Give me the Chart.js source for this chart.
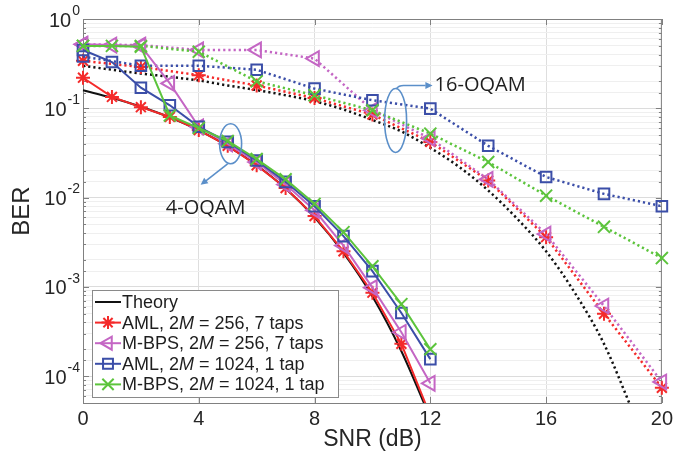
<!DOCTYPE html>
<html>
<head>
<meta charset="utf-8">
<script src="https://cdn.jsdelivr.net/npm/chart.js@4.4.1/dist/chart.umd.min.js"></script>
<style>
  html, body { margin: 0; padding: 0; background: #fff; }
  #wrap { width: 677px; height: 458px; }
</style>
</head>
<body>
<div id="wrap"><canvas id="berChart"></canvas></div>
<script>
// SNR grids (dB)
const snr4 = [0, 1, 2, 3, 4, 5, 6, 7, 8, 9, 10, 11, 12];
const snr16 = [0, 2, 4, 6, 8, 10, 12, 14, 16, 18, 20];
const snrTheory16 = [0, 1, 2, 3, 4, 5, 6, 7, 8, 9, 10, 11, 12, 13, 14, 15, 16, 17, 18, 19];

// 4-OQAM (solid)
const theory4 = [0.159, 0.131, 0.104, 0.079, 0.0565, 0.0377, 0.023, 0.0126, 0.006, 0.0024, 7.8e-4, 1.9e-4, 3.4e-5];
const aml256_4 = [0.22, 0.134, 0.103, 0.08, 0.057, 0.038, 0.023, 0.0128, 0.0062, 0.0025, 8.6e-4, 2.3e-4, 3.6e-5];
const mbps256_4 = [0.52, 0.51, 0.5, 0.19, 0.062, 0.04, 0.025, 0.014, 0.0072, 0.0029, 9.8e-4, 3.1e-4, 8.3e-5];
const aml1024_4 = [0.45, 0.33, 0.17, 0.108, 0.062, 0.042, 0.026, 0.015, 0.008, 0.0037, 0.0015, 5.1e-4, 1.55e-4];
const mbps1024_4 = [0.5, 0.5, 0.49, 0.083, 0.06, 0.043, 0.027, 0.016, 0.0085, 0.0041, 0.0017, 6.4e-4, 2.0e-4];

// 16-OQAM (dotted)
const theory16 = [0.3, 0.27, 0.245, 0.225, 0.205, 0.18, 0.16, 0.14, 0.12, 0.097, 0.074, 0.055, 0.036, 0.022, 0.012, 0.0058, 0.0025, 8.5e-4, 2.3e-4, 4e-5];
const aml256_16 = [0.34, 0.29, 0.235, 0.18, 0.13, 0.085, 0.042, 0.0155, 0.0036, 5.0e-4, 7.4e-5];
const mbps256_16 = [0.52, 0.51, 0.45, 0.45, 0.36, 0.095, 0.046, 0.016, 0.0039, 6.1e-4, 8.6e-5];
const aml1024_16 = [0.38, 0.30, 0.30, 0.27, 0.166, 0.123, 0.099, 0.038, 0.017, 0.011, 0.008];
const mbps1024_16 = [0.5, 0.5, 0.43, 0.2, 0.14, 0.095, 0.052, 0.025, 0.0105, 0.0047, 0.0021];

// axis labels
const xTickValues = [0, 4, 8, 12, 16, 20];
const yDecades = [0, -1, -2, -3, -4];

const RED = '#f42a2a', MAG = '#c466c4', BLUE = '#3b4ea8', GREEN = '#5cc43c', BLACK = '#111111';
const DOT = [2.2, 3];

const pts = (xs, ys) => xs.map((x, i) => ({ x: x, y: ys[i] }));
const isDecade = v => Math.abs(Math.log10(v) - Math.round(Math.log10(v))) < 1e-6;
const clipBox = { left: 12, right: 12, top: 12, bottom: 0 };

function series(xs, ys, color, style, dotted) {
    return {
        data: pts(xs, ys),
        borderColor: color,
        borderWidth: dotted ? 2.5 : 2,
        borderDash: dotted ? DOT : [],
        pointStyle: style.pointStyle,
        rotation: style.rotation || 0,
        pointRadius: style.radius,
        pointBorderWidth: 2,
        pointBorderColor: color,
        pointBackgroundColor: 'rgba(0,0,0,0)',
        tension: 0,
        clip: clipBox
    };
}

const starM = { pointStyle: 'star', radius: 7 };
const triM = { pointStyle: 'triangle', rotation: -90, radius: 8.5 };
const sqM = { pointStyle: 'rect', radius: 7.5 };
const xM = { pointStyle: 'crossRot', radius: 8.5 };

// legend entries, middle part is italic
const legendItems = [
    { parts: ['Theory', '', ''], color: BLACK, marker: null },
    { parts: ['AML, 2', 'M', ' = 256, 7 taps'], color: RED, marker: { pointStyle: 'star', radius: 6.5 } },
    { parts: ['M-BPS, 2', 'M', ' = 256, 7 taps'], color: MAG, marker: { pointStyle: 'triangle', rotation: -90, radius: 7.5 } },
    { parts: ['AML, 2', 'M', ' = 1024, 1 tap'], color: BLUE, marker: { pointStyle: 'rect', radius: 7 } },
    { parts: ['M-BPS, 2', 'M', ' = 1024, 1 tap'], color: GREEN, marker: { pointStyle: 'crossRot', radius: 8 } }
];

function drawArrowHead(ctx, x1, y1, x2, y2, size) {
    const ang = Math.atan2(y2 - y1, x2 - x1);
    ctx.beginPath();
    ctx.moveTo(x2, y2);
    ctx.lineTo(x2 - size * Math.cos(ang - 0.45), y2 - size * Math.sin(ang - 0.45));
    ctx.lineTo(x2 - size * Math.cos(ang + 0.45), y2 - size * Math.sin(ang + 0.45));
    ctx.closePath();
    ctx.fill();
}

const decor = {
    id: 'decor',
    beforeDatasetsDraw(chart) {
        const { ctx, chartArea: a, scales: { x, y } } = chart;
        ctx.save();
        ctx.strokeStyle = '#808080';
        ctx.lineWidth = 1;
        ctx.strokeRect(a.left + 0.5, a.top + 0.5, a.right - a.left - 1, a.bottom - a.top);
        ctx.beginPath();
        y.ticks.forEach(t => {
            const py = Math.round(y.getPixelForValue(t.value)) + 0.5;
            const len = isDecade(t.value) ? 6 : 3;
            ctx.moveTo(a.left, py); ctx.lineTo(a.left + len, py);
            ctx.moveTo(a.right, py); ctx.lineTo(a.right - len, py);
        });
        x.ticks.forEach(t => {
            const px = Math.round(x.getPixelForValue(t.value)) + 0.5;
            ctx.moveTo(px, a.bottom); ctx.lineTo(px, a.bottom - 6);
            ctx.moveTo(px, a.top); ctx.lineTo(px, a.top + 6);
        });
        ctx.stroke();
        ctx.restore();
    },
    afterDatasetsDraw(chart) {
        const { ctx, chartArea: a, scales: { x, y } } = chart;
        ctx.save();

        // y tick labels 10^n
        ctx.fillStyle = '#262626';
        ctx.textBaseline = 'middle';
        yDecades.forEach(e => {
            const py = y.getPixelForValue(Math.pow(10, e));
            const expText = String(e);
            ctx.font = '14px "Liberation Sans", Arial, sans-serif';
            const ew = ctx.measureText(expText).width;
            ctx.textAlign = 'right';
            ctx.fillText(expText, a.left - 3, py - 8);
            ctx.font = '20px "Liberation Sans", Arial, sans-serif';
            ctx.fillText('10', a.left - 4 - ew, py + 2);
        });

        // y title
        ctx.save();
        ctx.translate(22, (a.top + a.bottom) / 2);
        ctx.rotate(-Math.PI / 2);
        ctx.textAlign = 'center';
        ctx.font = '24px "Liberation Sans", Arial, sans-serif';
        ctx.fillText('BER', 0, 0);
        ctx.restore();

        // annotations
        ctx.strokeStyle = '#5b8fc9';
        ctx.fillStyle = '#5b8fc9';
        ctx.lineWidth = 1.6;
        const c4x = x.getPixelForValue(5.1), c4y = y.getPixelForValue(0.040);
        ctx.beginPath();
        ctx.ellipse(c4x, c4y, 11, 20, 0, 0, 2 * Math.PI);
        ctx.stroke();
        ctx.beginPath();
        ctx.moveTo(c4x - 3, c4y + 20);
        ctx.lineTo(c4x - 26, c4y + 38);
        ctx.stroke();
        drawArrowHead(ctx, c4x - 3, c4y + 20, c4x - 30, c4y + 41, 8);

        const c16x = x.getPixelForValue(10.8), c16y = y.getPixelForValue(0.073);
        ctx.beginPath();
        ctx.ellipse(c16x, c16y, 11, 32, 0, 0, 2 * Math.PI);
        ctx.stroke();
        ctx.beginPath();
        ctx.moveTo(c16x + 1, c16y - 32);
        ctx.quadraticCurveTo(c16x + 3, c16y - 35, c16x + 8, c16y - 35);
        ctx.lineTo(c16x + 30, c16y - 35);
        ctx.stroke();
        drawArrowHead(ctx, c16x + 20, c16y - 35, c16x + 37, c16y - 35, 8);

        ctx.fillStyle = '#1e1e1e';
        ctx.font = '20px "Open Sans", sans-serif';
        ctx.textAlign = 'center';
        ctx.textBaseline = 'middle';
        ctx.fillText('4-OQAM', c4x - 25, c4y + 64);
        ctx.textAlign = 'left';
        ctx.fillText('16-OQAM', c16x + 39, c16y - 35);

        // legend box
        const lx = 92, ly = 290, lw = 246, lh = 107;
        ctx.fillStyle = '#ffffff';
        ctx.fillRect(lx, ly, lw, lh);
        ctx.strokeStyle = '#8a8a8a';
        ctx.lineWidth = 1;
        ctx.strokeRect(lx + 0.5, ly + 0.5, lw, lh);
        legendItems.forEach((it, i) => {
            const ry = ly + 12 + i * 20.6;
            ctx.strokeStyle = it.color;
            ctx.lineWidth = 2;
            ctx.setLineDash([]);
            ctx.beginPath();
            ctx.moveTo(lx + 3, ry);
            ctx.lineTo(lx + 29, ry);
            ctx.stroke();
            if (it.marker) {
                ctx.fillStyle = 'rgba(0,0,0,0)';
                Chart.helpers.drawPoint(ctx, {
                    pointStyle: it.marker.pointStyle,
                    rotation: it.marker.rotation || 0,
                    radius: it.marker.radius,
                    borderWidth: 2
                }, lx + 16, ry);
            }
            ctx.fillStyle = '#1e1e1e';
            ctx.textAlign = 'left';
            ctx.textBaseline = 'middle';
            let tx = lx + 30;
            it.parts.forEach((p, k) => {
                if (!p) return;
                ctx.font = (k === 1 ? 'italic ' : '') + '18px "Liberation Sans", Arial, sans-serif';
                ctx.fillText(p, tx, ry + 1);
                tx += ctx.measureText(p).width;
            });
        });
        ctx.restore();
    }
};

const ctx = document.getElementById('berChart').getContext('2d');
new Chart(ctx, {
    type: 'line',
    data: {
        datasets: [
            series(snr4, mbps1024_4, GREEN, xM, false),
            series(snr4, aml1024_4, BLUE, sqM, false),
            series(snr4, mbps256_4, MAG, triM, false),
            series(snr4, aml256_4, RED, starM, false),
            series(snr16, mbps1024_16, GREEN, xM, true),
            series(snr16, aml1024_16, BLUE, sqM, true),
            series(snr16, mbps256_16, MAG, triM, true),
            series(snr16, aml256_16, RED, starM, true),
            Object.assign(series(snr4, theory4, BLACK, { pointStyle: false, radius: 0 }, false), { cubicInterpolationMode: 'monotone' }),
            Object.assign(series(snrTheory16, theory16, BLACK, { pointStyle: false, radius: 0 }, true), { cubicInterpolationMode: 'monotone' })
        ]
    },
    options: {
        responsive: true,
        maintainAspectRatio: false,
        animation: false,
        layout: { padding: { left: 5, right: 10, top: 19, bottom: 0 } },
        plugins: {
            legend: { display: false },
            tooltip: { enabled: false }
        },
        scales: {
            x: {
                type: 'linear',
                min: 0,
                max: 20,
                afterFit: s => { s.height = 55; },
                afterBuildTicks: s => { s.ticks = xTickValues.map(v => ({ value: v })); },
                ticks: {
                    color: '#262626',
                    padding: 4,
                    font: { family: '"Liberation Sans", Arial, sans-serif', size: 20 }
                },
                grid: { color: '#dedede', drawTicks: false },
                border: { display: false },
                title: {
                    display: true,
                    text: 'SNR (dB)',
                    color: '#262626',
                    padding: { top: 0, bottom: 5 },
                    font: { family: '"Liberation Sans", Arial, sans-serif', size: 23 }
                }
            },
            y: {
                type: 'logarithmic',
                min: 5e-5,
                max: 1,
                afterFit: s => { s.width = 78; },
                ticks: { display: false },
                grid: {
                    drawTicks: false,
                    color: c => isDecade(c.tick.value) ? '#dcdcdc' : '#efefef'
                },
                border: { display: false }
            }
        }
    },
    plugins: [decor]
});
</script>
</body>
</html>
